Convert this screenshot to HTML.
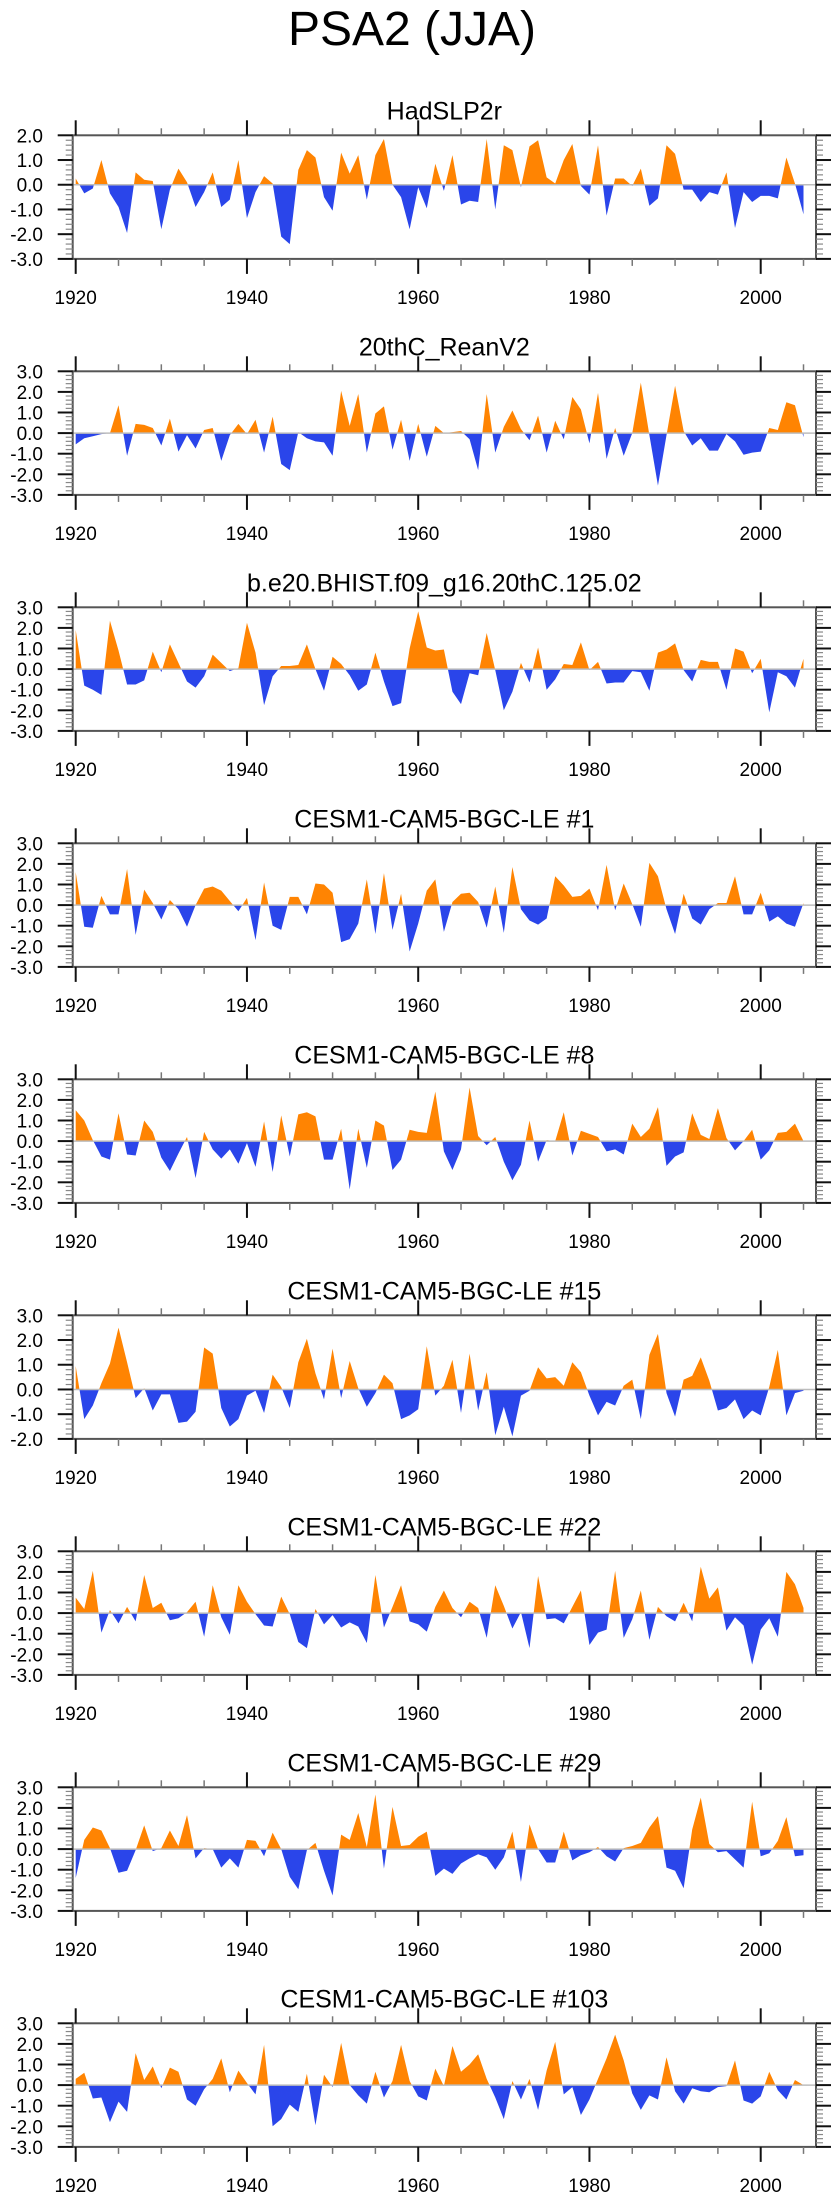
<!DOCTYPE html>
<html><head><meta charset="utf-8"><style>
html,body{margin:0;padding:0;background:#fff}
svg{display:block}
text{font-family:"Liberation Sans",sans-serif;fill:#000}
</style></head><body>
<svg id="fig" width="840" height="2200" viewBox="0 0 840 2200" xmlns="http://www.w3.org/2000/svg">
<text x="412" y="45" font-size="48" text-anchor="middle">PSA2 (JJA)</text>
</svg>
<script>
const titles = ["HadSLP2r","20thC_ReanV2","b.e20.BHIST.f09_g16.20thC.125.02","CESM1-CAM5-BGC-LE #1","CESM1-CAM5-BGC-LE #8","CESM1-CAM5-BGC-LE #15","CESM1-CAM5-BGC-LE #22","CESM1-CAM5-BGC-LE #29","CESM1-CAM5-BGC-LE #103"];
const yMins = [-3,-3,-3,-3,-3,-2,-3,-3,-3];
const yMaxs = [2,3,3,3,3,3,3,3,3];
const xTickYears = [1920,1940,1960,1980,2000];
const startYear = 1920;
const s1 = [0.25,-0.35,-0.15,1.0,-0.35,-0.9,-1.95,0.5,0.2,0.15,-1.8,-0.2,0.65,0.1,-0.9,-0.3,0.5,-0.9,-0.6,1.0,-1.35,-0.3,0.35,0.05,-2.1,-2.4,0.6,1.4,1.1,-0.5,-1.05,1.3,0.45,1.2,-0.6,1.2,1.85,0.0,-0.5,-1.8,-0.1,-0.95,0.85,-0.25,1.2,-0.8,-0.65,-0.7,1.85,-1.0,1.6,1.4,-0.1,1.55,1.8,0.3,0.05,1.0,1.65,-0.05,-0.4,1.6,-1.25,0.25,0.25,-0.05,0.65,-0.85,-0.55,1.6,1.25,-0.2,-0.2,-0.7,-0.3,-0.4,0.5,-1.75,-0.3,-0.7,-0.45,-0.45,-0.55,1.1,0.05,-1.2];
const s2 = [-0.55,-0.25,-0.15,-0.05,0.0,1.35,-1.1,0.45,0.4,0.25,-0.6,0.7,-0.9,-0.1,-0.75,0.15,0.25,-1.35,-0.1,0.45,-0.05,0.65,-0.95,0.8,-1.5,-1.8,0.05,-0.25,-0.4,-0.45,-1.1,2.05,0.35,1.9,-0.95,0.95,1.3,-0.8,0.65,-1.35,0.45,-1.15,0.35,0.0,0.05,0.1,-0.3,-1.8,1.9,-0.95,0.3,1.1,0.2,-0.35,0.85,-0.95,0.6,-0.3,1.75,1.15,-0.5,1.95,-1.25,0.25,-1.1,0.0,2.45,-0.1,-2.55,-0.1,2.3,0.1,-0.6,-0.25,-0.85,-0.85,-0.05,-0.4,-1.05,-0.95,-0.9,0.25,0.15,1.5,1.35,-0.2];
const s3 = [1.9,-0.8,-1.0,-1.25,2.35,0.9,-0.75,-0.75,-0.55,0.85,-0.15,1.2,0.3,-0.6,-0.9,-0.35,0.7,0.3,-0.1,0.05,2.25,0.8,-1.75,-0.35,0.15,0.15,0.2,1.2,0.0,-1.05,0.6,0.25,-0.3,-1.05,-0.75,0.8,-0.6,-1.8,-1.65,1.0,2.8,1.05,0.9,0.95,-1.1,-1.7,-0.2,-0.3,1.75,-0.05,-2.0,-1.1,0.3,-0.65,1.05,-1.0,-0.5,0.25,0.2,1.3,-0.05,0.35,-0.7,-0.65,-0.65,-0.1,-0.15,-1.05,0.8,0.95,1.25,-0.05,-0.6,0.45,0.35,0.35,-1.0,1.0,0.85,-0.2,0.5,-2.1,-0.15,-0.35,-0.9,0.5];
const s4 = [1.6,-1.05,-1.1,0.45,-0.45,-0.45,1.75,-1.45,0.75,0.1,-0.7,0.25,-0.2,-1.05,0.0,0.8,0.9,0.7,0.2,-0.3,0.35,-1.7,1.1,-1.0,-1.2,0.4,0.4,-0.45,1.05,1.0,0.6,-1.8,-1.65,-0.9,1.25,-1.4,1.55,-1.2,0.55,-2.25,-0.9,0.7,1.25,-1.3,0.15,0.55,0.6,0.15,-1.1,0.9,-1.35,1.85,-0.2,-0.75,-0.95,-0.65,1.4,0.95,0.4,0.45,0.8,-0.25,1.95,-0.25,1.05,0.05,-1.05,2.05,1.4,-0.2,-1.4,0.55,-0.65,-0.95,-0.2,0.1,0.1,1.4,-0.45,-0.45,0.6,-0.8,-0.55,-0.9,-1.05,0.1];
const s5 = [1.5,1.0,0.05,-0.75,-0.9,1.35,-0.65,-0.7,1.0,0.45,-0.8,-1.45,-0.6,0.2,-1.8,0.45,-0.4,-0.85,-0.4,-1.1,-0.1,-1.25,0.95,-1.5,1.25,-0.75,1.3,1.4,1.2,-0.9,-0.9,0.6,-2.35,0.6,-1.3,1.0,0.75,-1.4,-0.9,0.55,0.45,0.4,2.4,-0.5,-1.4,-0.4,2.6,0.25,-0.2,0.2,-1.0,-1.9,-1.15,1.0,-1.0,0.05,0.0,1.4,-0.7,0.5,0.35,0.2,-0.5,-0.4,-0.65,0.85,0.2,0.6,1.65,-1.2,-0.75,-0.55,1.35,0.3,0.1,1.6,0.15,-0.45,0.0,0.55,-0.9,-0.45,0.4,0.45,0.85,0.0];
const s6 = [0.95,-1.2,-0.65,0.25,1.05,2.5,1.1,-0.35,0.05,-0.85,-0.2,-0.2,-1.35,-1.3,-0.9,1.7,1.45,-0.75,-1.5,-1.2,-0.25,-0.05,-0.95,0.6,0.1,-0.75,1.1,2.05,0.65,-0.4,1.65,-0.35,1.15,0.05,-0.7,-0.15,0.6,0.25,-1.2,-1.05,-0.8,1.75,-0.25,0.15,1.2,-0.95,1.45,-0.85,0.7,-1.85,-0.7,-1.9,-0.25,-0.05,0.9,0.45,0.5,0.15,1.1,0.7,-0.25,-1.05,-0.5,-0.65,0.15,0.4,-1.2,1.4,2.25,-0.15,-1.1,0.4,0.55,1.3,0.35,-0.85,-0.75,-0.4,-1.2,-0.85,-1.05,0.1,1.6,-1.05,-0.15,-0.05];
const s7 = [0.75,0.2,2.05,-0.95,0.15,-0.5,0.3,-0.4,1.85,0.25,0.5,-0.35,-0.25,0.05,0.55,-1.15,1.35,-0.2,-1.05,1.35,0.55,-0.05,-0.6,-0.65,0.8,-0.05,-1.4,-1.7,0.2,-0.55,-0.1,-0.7,-0.45,-0.65,-1.45,1.85,-0.7,0.3,1.35,-0.4,-0.55,-0.9,0.3,1.1,0.25,-0.2,0.55,0.25,-1.2,1.35,0.35,-0.75,0.05,-1.7,1.8,-0.3,-0.25,-0.5,0.3,1.1,-1.55,-0.95,-0.8,2.05,-1.2,-0.3,1.1,-1.3,0.3,-0.15,-0.4,0.5,-0.4,2.25,0.7,1.25,-0.85,-0.2,-0.6,-2.5,-0.8,-0.25,-1.15,2.0,1.4,0.25];
const s8 = [-1.4,0.45,1.05,0.9,0.05,-1.15,-1.05,-0.05,1.15,-0.1,0.05,0.9,0.15,1.65,-0.45,0.05,0.0,-0.9,-0.45,-0.9,0.45,0.4,-0.35,0.8,0.0,-1.35,-1.95,-0.05,0.3,-1.05,-2.25,0.7,0.45,1.75,0.1,2.65,-0.95,2.05,0.15,0.2,0.6,0.85,-1.3,-0.95,-1.2,-0.7,-0.45,-0.25,-0.4,-1.0,-0.4,0.85,-1.6,1.2,0.0,-0.65,-0.65,0.85,-0.55,-0.3,-0.15,0.1,-0.35,-0.6,0.05,0.15,0.3,1.05,1.6,-0.9,-1.05,-1.9,0.95,2.5,0.25,-0.15,-0.1,-0.5,-0.9,2.3,-0.35,-0.2,0.4,1.55,-0.35,-0.3];
const s9 = [0.3,0.6,-0.65,-0.6,-1.8,-0.8,-1.3,1.55,0.25,0.9,-0.15,0.85,0.65,-0.7,-1.0,-0.2,0.3,1.3,-0.35,0.7,0.1,-0.45,1.95,-2.0,-1.65,-0.95,-1.3,0.55,-1.95,0.5,-0.1,2.05,0.0,-0.5,-0.9,0.65,-0.6,0.2,1.95,0.2,-0.55,-0.75,0.8,-0.05,1.9,0.65,1.0,1.5,0.3,-0.6,-1.65,0.2,-0.7,0.3,-1.2,0.7,2.1,-0.45,-0.1,-1.45,-0.7,0.3,1.3,2.45,1.2,-0.4,-1.2,-0.5,-0.7,1.35,-0.3,-0.9,-0.15,-0.3,-0.35,-0.1,-0.05,1.2,-0.75,-0.9,-0.55,0.65,-0.25,-0.7,0.25,0.0];
const series = [s1,s2,s3,s4,s5,s6,s7,s8,s9];

const NS = "http://www.w3.org/2000/svg";
const svg = document.getElementById("fig");
const L = 72.7, R = 816, H = 123.6, X0 = 75.7, PX = 8.5625;
function mk(tag, attrs, parent) {
  const e = document.createElementNS(NS, tag);
  for (const k in attrs) e.setAttribute(k, attrs[k]);
  (parent || svg).appendChild(e);
  return e;
}
function xs(yr) { return X0 + PX * (yr - 1920); }

series.forEach((vals, p) => {
  const top = 135.3 + 236 * p, bot = top + H;
  const ymin = yMins[p], ymax = yMaxs[p];
  const ys = v => bot - (v - ymin) / (ymax - ymin) * H;
  const g = mk("g", {});
  
  

  const t = mk("text", {x: (L + R) / 2, y: top - 16, "font-size": 25, "text-anchor": "middle"}, g);
  t.textContent = titles[p];
  
  

  const z = ys(0);
  let d = "M" + xs(startYear).toFixed(2) + "," + z.toFixed(2);
  vals.forEach((v, i) => { d += " L" + xs(startYear + i).toFixed(2) + "," + ys(v).toFixed(2); });
  d += " L" + xs(startYear + vals.length - 1).toFixed(2) + "," + z.toFixed(2) + " Z";
  const cpA = mk("clipPath", {id: "ca" + p}, g);
  mk("rect", {x: L, y: top, width: R - L, height: z - top}, cpA);
  const cpB = mk("clipPath", {id: "cb" + p}, g);
  mk("rect", {x: L, y: z, width: R - L, height: bot - z}, cpB);
  const pos = mk("path", {d: d, fill: "#ff8402", "clip-path": "url(#ca" + p + ")"}, g);
  
  
  const neg = mk("path", {d: d, fill: "#2a45ea", "clip-path": "url(#cb" + p + ")"}, g);
  
  
  const zl = mk("line", {x1: L, x2: R, y1: z, y2: z, stroke: "#bdbdbd", "stroke-width": 1.5}, g);
  
  

  const box = mk("rect", {x: L, y: top, width: R - L, height: H, fill: "none", stroke: "#555", "stroke-width": 2}, g);
  
  

  // x ticks
  for (let yr = 1920; yr <= 2005; yr += 5) {
    const major = yr % 20 === 0;
    const len = major ? 15 : 7;
    const col = major ? "#111" : "#777";
    mk("line", {x1: xs(yr), x2: xs(yr), y1: top, y2: top - len, stroke: col, "stroke-width": major ? 2 : 1.5}, g);
    mk("line", {x1: xs(yr), x2: xs(yr), y1: bot, y2: bot + len, stroke: col, "stroke-width": major ? 2 : 1.5}, g);
  }
  xTickYears.forEach(yr => {
    const tl = mk("text", {x: xs(yr), y: bot + 45, "font-size": 19, "text-anchor": "middle"}, g);
    tl.textContent = yr;
    
    
  });
  // y ticks
  for (let k = ymin * 5; k <= ymax * 5; k++) {
    const v = k / 5, y = ys(v);
    const major = k % 5 === 0;
    const len = major ? 15 : 7;
    const col = major ? "#111" : "#888";
    mk("line", {x1: L, x2: L - len, y1: y, y2: y, stroke: col, "stroke-width": major ? 2 : 1.2}, g);
    mk("line", {x1: R, x2: R + len, y1: y, y2: y, stroke: col, "stroke-width": major ? 2 : 1.2}, g);
    if (major) {
      const yl = mk("text", {x: 43, y: y + 7, "font-size": 19, "text-anchor": "end"}, g);
      yl.textContent = v.toFixed(1);
      
      
    }
  }
});
</script>
</body></html>
